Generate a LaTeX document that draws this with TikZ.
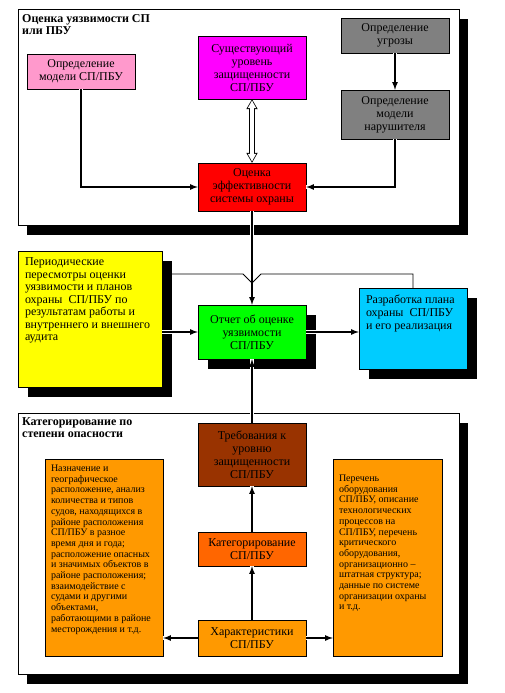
\documentclass[tikz,border=0pt]{standalone}
\usepackage{fontspec}
\setmainfont{Liberation Serif}
\newfontfamily\tnr{Liberation Serif}
\usepackage{tikz}
\usetikzlibrary{shadows}
\usetikzlibrary{arrows.meta}
\definecolor{pinkbox}{HTML}{FF99CC}
\definecolor{magbox}{HTML}{FF00FF}
\definecolor{redbox}{HTML}{FF0000}
\definecolor{graybox}{HTML}{808080}
\definecolor{yelbox}{HTML}{FFFF00}
\definecolor{grnbox}{HTML}{00FF00}
\definecolor{cyanbox}{HTML}{00CCFF}
\definecolor{brownbox}{HTML}{993300}
\definecolor{orangered}{HTML}{FF6600}
\definecolor{orangebox}{HTML}{FF9900}
% text block: width, height, text (top aligned, lines never broken)
\newcommand{\tbox}[3]{\parbox[c][#2][t]{#1}{\rightskip=0pt plus 1fil minus 60pt\parindent=0pt #3}}

\begin{document}
\begin{tikzpicture}[x=1pt,y=-1pt,
  frame/.style={rectangle,draw=black,thin,fill=white,general shadow={fill=black,shadow xshift=9pt,shadow yshift=-10pt}},
  shady/.style={general shadow={fill=black,shadow xshift=10pt,shadow yshift=-10pt}},
  title/.style={anchor=north west,align=left,inner sep=0pt,font=\tnr\bfseries\fontsize{12}{12.5}\selectfont},
  box/.style={rectangle,draw=black,thin,align=center,minimum width=108pt,inner sep=2pt,font=\tnr\fontsize{12}{13}\selectfont},
  note/.style={rectangle,draw=black,thin,inner sep=7pt},
  link/.style={line width=1.6pt,-latex,preaction={draw=white,line width=3.4pt,-}},
  thinlink/.style={line width=0.8pt,-latex},
  dbl/.style={draw=white,line width=4pt,shorten <=1.4pt,shorten >=1.4pt,
    {Triangle[length=7.6pt,width=8.4pt,line width=0pt]}-{Triangle[length=7.6pt,width=8.4pt,line width=0pt]},
    preaction={draw=black,line width=6pt,shorten <=0pt,shorten >=0pt,
    {Triangle[length=10pt,width=11.5pt,line width=0pt]}-{Triangle[length=10pt,width=11.5pt,line width=0pt]}}}]
\fill[white] (0,0) rectangle (504,693);
\useasboundingbox (0,0) rectangle (504,693);
%frames
\path (238.5,117) node(topfr)[frame,minimum width=441pt,minimum height=216pt]{}
(238.5,543.5) node(botfr)[frame,minimum width=441pt,minimum height=261pt]{};
\path (22,14) node(topttl)[title]{Оценка уязвимости СП\\или ПБУ}
(22,417) node(botttl)[title]{Категорирование по\\степени опасности};
%upper part
\path (81,71.5) node(mdl)[box,fill=pinkbox,minimum height=35pt]{Определение\\модели СП/ПБУ}
(252,67.5) node(urv)[box,fill=magbox,minimum height=63pt]{Существующий\\уровень\\защищенности\\СП/ПБУ}
(252,187) node(ocn)[box,fill=redbox,minimum height=48pt]{Оценка\\эффективности\\системы охраны}
(395,35.5) node(ugr)[box,fill=graybox,minimum height=35pt]{Определение\\угрозы}
(395,114.5) node(nar)[box,fill=graybox,minimum height=49pt]{Определение\\модели\\нарушителя};
%middle part
\path (90,319) node(per)[note,fill=yelbox,shady,font=\tnr\fontsize{12}{12.5}\selectfont]{\tbox{130pt}{122pt}{Периодические\\пересмотры оценки\\уязвимости и планов\\охраны\ \ СП/ПБУ по\\результатам работы и\\внутреннего и внешнего\\аудита}}
(252,332) node(otch)[box,fill=grnbox,shady,minimum height=54pt]{Отчет об оценке\\уязвимости\\СП/ПБУ}
(413,328.5) node(raz)[note,fill=cyanbox,shady,font=\tnr\fontsize{12}{13}\selectfont]{\tbox{94pt}{67pt}{Разработка плана\\охраны\ \ СП/ПБУ\\и его реализация}};
%lower part
\path (252,454.5) node(treb)[box,fill=brownbox,minimum height=63pt]{Требования к\\уровню\\защищенности\\СП/ПБУ}
(252,549) node(kat)[box,fill=orangered,minimum height=34pt]{Категорирование\\СП/ПБУ}
(252,638) node(har)[box,fill=orangebox,minimum height=36pt]{Характеристики\\СП/ПБУ}
(104,557.5) node(nazn)[note,fill=orangebox,inner sep=6pt,font=\tnr\fontsize{10}{10.7}\selectfont]{\tbox{106pt}{185pt}{Назначение и\\географическое\\расположение, анализ\\количества и типов\\судов, находящихся в\\районе расположения\\СП/ПБУ в разное\\время дня и года;\\расположение опасных\\и значимых объектов в\\районе расположения;\\взаимодействие с\\судами и другими\\объектами,\\работающими в районе\\месторождения и т.д.}}
(387.5,557.5) node(perech)[note,fill=orangebox,inner sep=6pt,font=\tnr\fontsize{10}{10.7}\selectfont]{\tbox{97pt}{185pt}{\vspace*{10pt}Перечень\\оборудования\\СП/ПБУ, описание\\технологических\\процессов на\\СП/ПБУ, перечень\\критического\\оборудования,\\организационно –\\штатная структура;\\данные по системе\\организации охраны\\и т.д.}};
\coordinate (hopR) at (261,274);
\coordinate (hopB) at (252,283);
\coordinate (hopL) at (243,274);
%connectors
\draw[link](ugr)--(nar);
\draw[link](mdl.south)|-(ocn.west);
\draw[link](nar.south)|-(ocn.east);
\draw[dbl](urv)--(ocn);
\draw[link](ocn)--(otch);
\draw[thinlink](raz.north)|-(hopR)--(hopB)--(hopL)--(per.east|-hopL);
\draw[link](per.east|-otch)--(otch.west);
\draw[link](otch)--(raz.west|-otch);
\draw[link](treb)--(otch);
\draw[link](kat)--(treb);
\draw[link](har)--(kat);
\draw[link](har)--(nazn.east|-har);
\draw[link](har)--(perech.west|-har);
\end{tikzpicture}
\end{document}
